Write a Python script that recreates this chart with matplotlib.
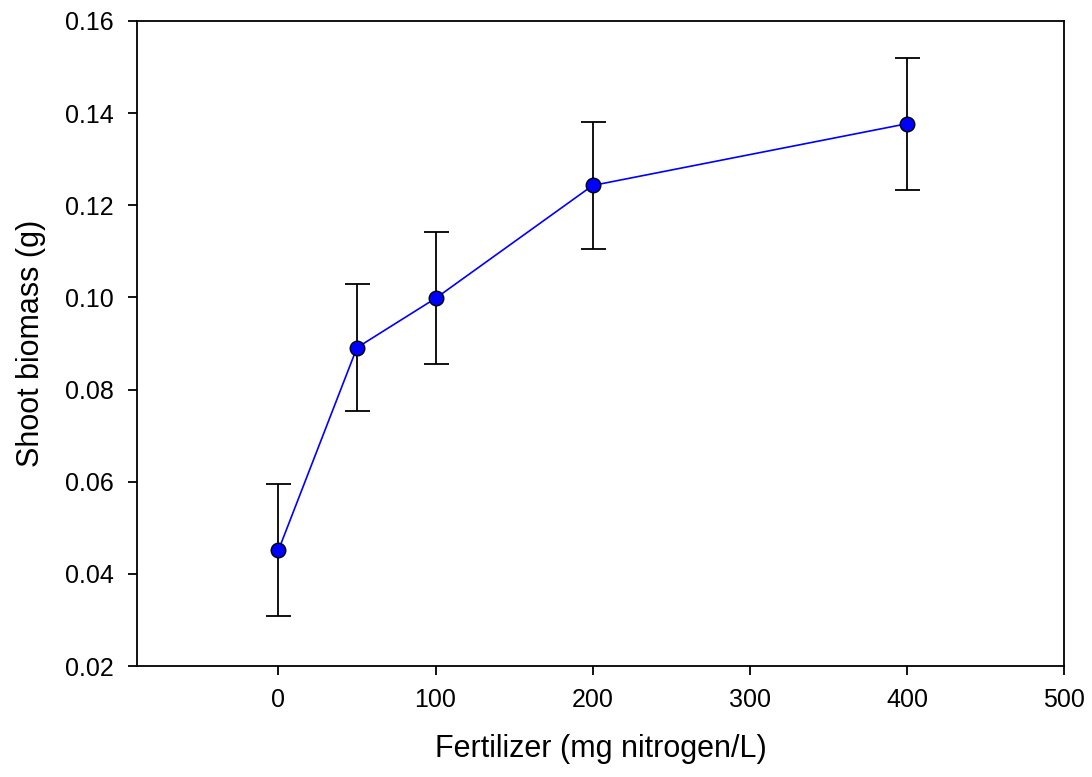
import matplotlib
matplotlib.use("Agg")
import matplotlib.pyplot as plt

plt.rcParams['font.family'] = ['Liberation Sans', 'DejaVu Sans']

# fertilizer dose vs shoot biomass
fertilizer = [0, 50, 100, 200, 400]
biomass = [0.0451, 0.0891, 0.0998, 0.1243, 0.1377]
err = [0.0143, 0.0138, 0.0143, 0.0138, 0.0143]
x_ticks = [0, 100, 200, 300, 400, 500]
y_ticks = [0.02, 0.04, 0.06, 0.08, 0.10, 0.12, 0.14, 0.16]

fig = plt.figure(figsize=(10.92, 7.77), dpi=100)
ax = fig.add_axes([137/1092, 1 - 666/777, (1064 - 137)/1092, (666 - 21)/777])

ax.errorbar(fertilizer, biomass, yerr=err, fmt='none', ecolor='black',
            elinewidth=1.3, capsize=9, capthick=1.3, zorder=2)
ax.plot(fertilizer, biomass, color='blue', lw=1.2, marker='o', ms=10.5,
        mfc='blue', mec='black', mew=1.0, zorder=3)

ax.set_xlim(-90, 500)
ax.set_ylim(0.02, 0.16)
ax.set_xticks(x_ticks)
ax.set_yticks(y_ticks)
ax.set_yticklabels([f"{v:.2f}" for v in y_ticks])

ax.tick_params(direction='out', length=6.5, width=1.3, labelsize=18,
               top=False, right=False)
ax.tick_params(axis='y', pad=10)
ax.tick_params(axis='x', pad=9.5)
for s in ax.spines.values():
    s.set_linewidth(1.3)

ax.set_xlabel("Fertilizer (mg nitrogen/L)", fontsize=22, labelpad=16)
ax.set_ylabel("Shoot biomass (g)", fontsize=22, labelpad=14)

fig.savefig("out.png", dpi=100)
